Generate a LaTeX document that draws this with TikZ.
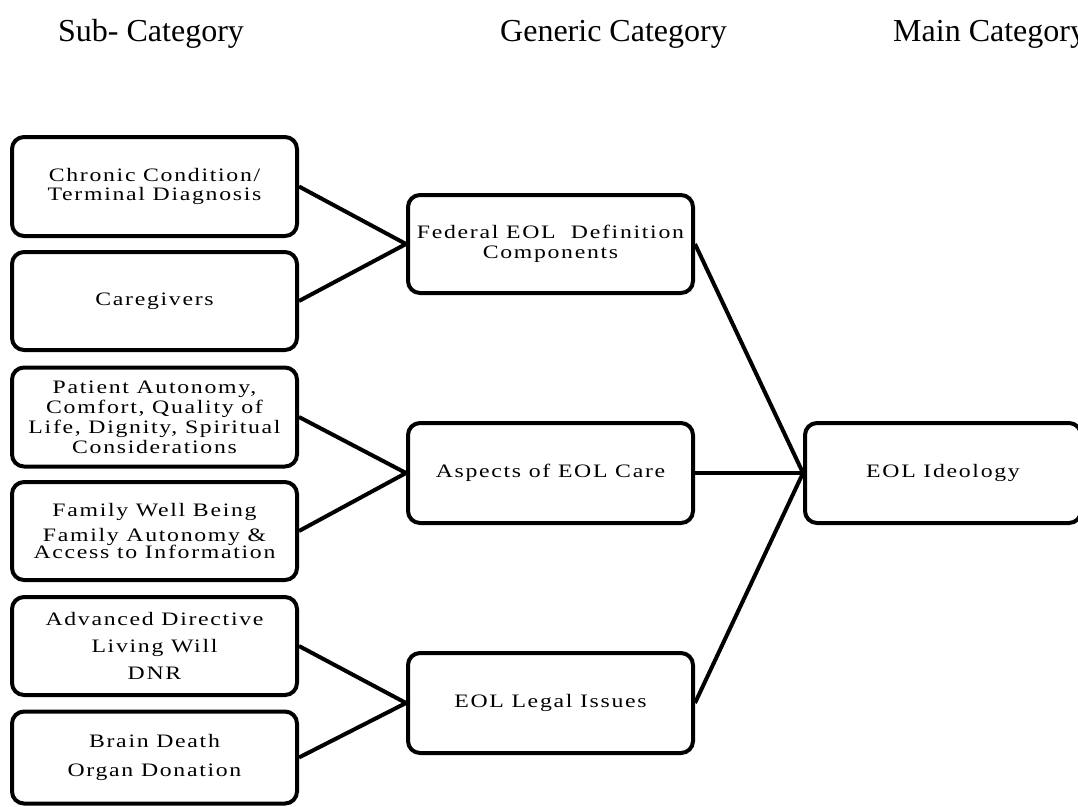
\documentclass[tikz,border=0pt]{standalone}
\usepackage{fontspec}
\setmainfont{Liberation Serif}
\newfontfamily\boxfont[FakeStretch=1.25,LetterSpace=9]{Liberation Serif}
\usepackage{tikz}

\begin{document}
\begin{tikzpicture}[x=1pt,y=1pt,%
	catbox/.style={draw, line width=4pt, rounded corners=12pt, align=center,
		minimum width=285pt, minimum height=100pt, inner sep=0pt,
		font=\boxfont\fontsize{19}{20}\selectfont},
	subbox/.style={catbox, minimum height=99pt},
	heading/.style={anchor=base west, inner sep=0pt, font=\fontsize{32}{36}\selectfont},
	link/.style={line width=4pt}]
	\useasboundingbox (0,0) rectangle (1078,-806);
	\node[heading] (hsub) at (58,-41) {Sub- Category};
	\node[heading] (hgen) at (500,-41) {Generic Category};
	\node[heading] (hmain) at (893,-41) {Main Category};
	\node[subbox] (chronic) at (154.5,-186.5) {Chronic Condition/\\[-1pt]Terminal Diagnosis};
	\node[subbox, minimum height=98pt] (caregivers) at (154.5,-301) {Caregivers};
	\node[subbox] (patient) at (154.5,-417) {Patient Autonomy,\\Comfort, Quality of\\Life, Dignity, Spiritual\\Considerations};
	\node[subbox, minimum height=98pt] (family) at (154.5,-531) {Family Well Being\\[5pt]Family Autonomy \&\\[-3pt]Access to Information};
	\node[subbox, minimum height=98pt] (advanced) at (154.5,-646) {Advanced Directive\\[7pt]Living Will\\[7pt]DNR};
	\node[subbox, minimum height=92pt] (brain) at (154.5,-757.5) {Brain Death\\[9pt]Organ Donation};
	\node[catbox, minimum height=98pt] (federal) at (550.5,-244) {Federal EOL\ \ Definition\\Components};
	\node[catbox] (aspects) at (550.5,-473) {Aspects of EOL Care};
	\node[catbox] (legal) at (550.5,-703) {EOL Legal Issues};
	\node[catbox, minimum width=276pt] (ideology) at (943,-473) {EOL Ideology};
	\draw[link] (chronic.east) -- (federal.west) -- (caregivers.east);
	\draw[link] (patient.east) -- (aspects.west) -- (family.east);
	\draw[link] (advanced.east) -- (legal.west) -- (brain.east);
	\draw[link] (federal.east) -- (ideology.west) -- (legal.east);
	\draw[link] (aspects.east) -- (ideology.west);
\end{tikzpicture}
\end{document}
